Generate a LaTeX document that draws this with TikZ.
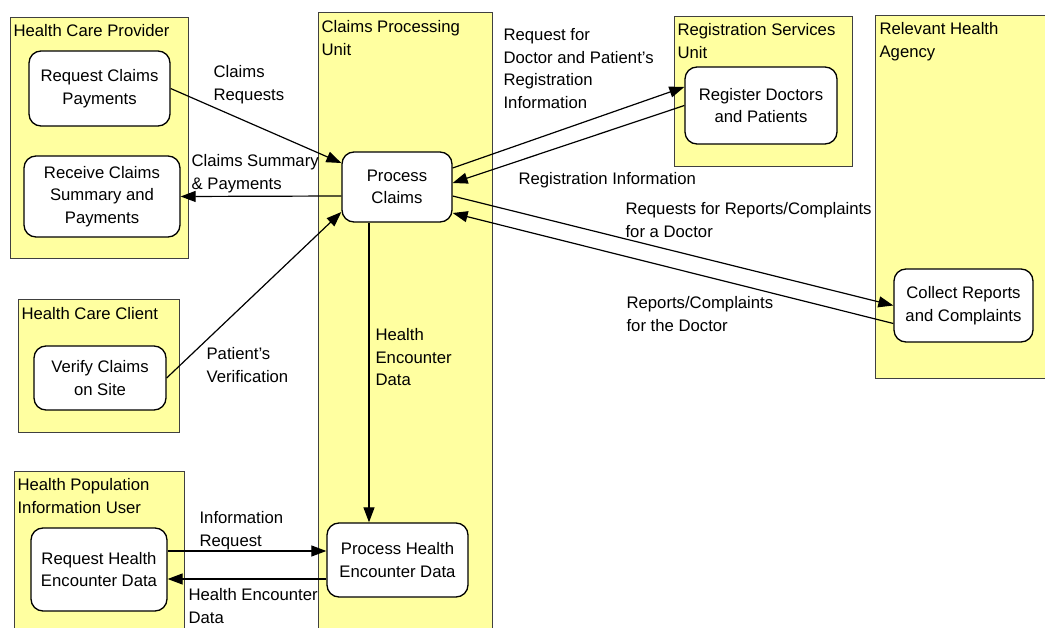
\documentclass[tikz,border=0pt]{standalone}
\usepackage{fontspec}
\setmainfont{Liberation Sans}
\usetikzlibrary{arrows.meta}

\definecolor{laneyellow}{RGB}{255,255,160}

\begin{document}
\begin{tikzpicture}[x=1pt,y=-1pt,->,>={Triangle[length=15pt,width=11pt]},
  line width=1.2pt,font=\fontsize{16.7}{22.5}\selectfont,
  lane/.style={draw=black!75,line width=1pt,fill=laneyellow,anchor=north west,inner sep=0pt},
  lane title/.style={anchor=north west,inner sep=0pt,align=left},
  task node/.style={draw,line width=1.3pt,rounded corners=12pt,fill=white,align=center,inner sep=0pt},
  flow label/.style={anchor=north west,inner sep=0pt,align=left}]

  \useasboundingbox (0,0) rectangle (1045,628);
  \clip (0,0) rectangle (1045,628);

  % swim lanes
  \node[lane,minimum width=178pt,minimum height=241pt] (hcp) at (10,17) {};
  \node[lane,minimum width=174pt,minimum height=630pt] (cpu) at (318,12) {};
  \node[lane,minimum width=178pt,minimum height=150pt] (rsu) at (674,16) {};
  \node[lane,minimum width=185pt,minimum height=363pt] (rha) at (875,15) {};
  \node[lane,minimum width=161pt,minimum height=133pt] (hcc) at (18,299) {};
  \node[lane,minimum width=170pt,minimum height=170pt] (hpiu) at (14,471) {};

  \node[lane title] (hcp t) at ([shift={(3pt,-7pt)}]hcp.north west) {Health Care Provider};
  \node[lane title] (cpu t) at ([shift={(3pt,-8pt)}]cpu.north west) {Claims Processing\\Unit};
  \node[lane title] (rsu t) at ([shift={(3pt,-7pt)}]rsu.north west) {Registration Services\\Unit};
  \node[lane title] (rha t) at ([shift={(4pt,-7pt)}]rha.north west) {Relevant Health\\Agency};
  \node[lane title] (hcc t) at ([shift={(3pt,-8pt)}]hcc.north west) {Health Care Client};
  \node[lane title] (hpiu t) at ([shift={(3pt,-7pt)}]hpiu.north west) {Health Population\\Information User};

  % tasks
  \node[task node,minimum width=141pt,minimum height=75pt] (rcp) at (99.5,88.5) {Request Claims\\Payments};
  \node[task node,minimum width=156pt,minimum height=81pt] (rcs) at (102,196.5) {Receive Claims\\Summary and\\Payments};
  \node[task node,minimum width=110pt,minimum height=70pt] (pc) at (397,187) {Process\\Claims};
  \node[task node,minimum width=152pt,minimum height=77pt] (rdp) at (761,105.5) {Register Doctors\\and Patients};
  \node[task node,minimum width=139pt,minimum height=73pt] (crc) at (963.5,305.5) {Collect Reports\\and Complaints};
  \node[task node,minimum width=132pt,minimum height=64pt] (vcs) at (100,378) {Verify Claims\\on Site};
  \node[task node,minimum width=136pt,minimum height=83pt] (rhed) at (99,569.5) {Request Health\\Encounter Data};
  \node[task node,minimum width=141pt,minimum height=74pt] (phed) at (397.5,560) {Process Health\\Encounter Data};

  \path
    (rcp.east) edge ([yshift=24pt]pc.west)
    (vcs.east) edge ([yshift=-25pt]pc.west)
    ([yshift=-9pt]pc.west) edge (rcs.east)
    ([yshift=19pt]pc.east) edge ([yshift=18.5pt]rdp.west)
    (rdp.west) edge ([yshift=4pt]pc.east)
    ([yshift=-9pt]pc.east) edge (crc.west)
    ([yshift=-18pt]crc.west) edge ([yshift=-26pt]pc.east)
    ([xshift=-28pt]pc.south) edge ([xshift=-28.5pt]phed.north)
    ([yshift=18.5pt]rhed.east) edge ([yshift=9pt]phed.west)
    ([yshift=-19pt]phed.west) edge ([yshift=-9.5pt]rhed.east)
    ;

  % flow labels
  \node[flow label] (l req) at (213,65) {Claims\\Requests};
  \node[flow label] (l sum) at (191,154) {Claims Summary\\\& Payments};
  \node[flow label] (l ver) at (206,347) {Patient's\\Verification};
  \node[flow label] (l regreq) at (503,28) {Request for\\Doctor and Patient's\\Registration\\Information};
  \node[flow label] (l reg) at (518,172) {Registration Information};
  \node[flow label] (l rptreq) at (625,202) {Requests for Reports/Complaints\\for a Doctor};
  \node[flow label] (l rpt) at (626,296) {Reports/Complaints\\for the Doctor};
  \node[flow label] (l hed) at (375,328) {Health\\Encounter\\Data};
  \node[flow label] (l inf) at (199,511) {Information\\Request};
  \node[flow label] (l hedback) at (188,588) {Health Encounter\\Data};
\end{tikzpicture}
\end{document}
